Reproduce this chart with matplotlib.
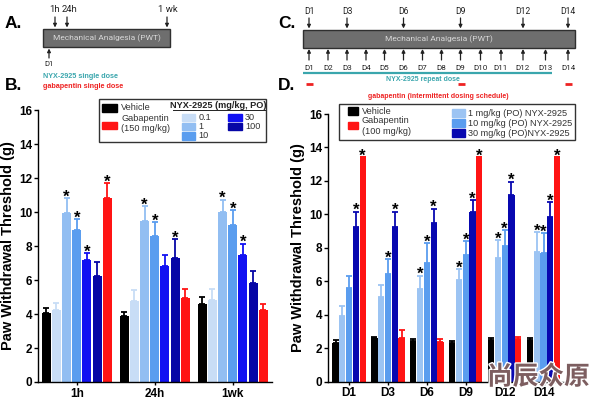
import numpy as np
import matplotlib.pyplot as plt
from matplotlib.patches import Rectangle
import matplotlib.patheffects as pe

plt.rcParams['font.family'] = ['Liberation Sans', 'DejaVu Sans']

# ---- panel B data (single dose) ----
times_b = ['1h', '24h', '1wk']
vehicle_b = [4.04, 3.88, 4.57]
vehicle_b_err = [0.29, 0.26, 0.41]
nyx01_b = [4.23, 4.76, 4.82]
nyx01_b_err = [0.44, 0.64, 0.65]
nyx1_b = [9.95, 9.47, 9.98]
nyx1_b_err = [0.88, 0.88, 0.75]
nyx10_b = [8.94, 8.6, 9.23]
nyx10_b_err = [0.66, 0.8, 0.87]
nyx30_b = [7.17, 6.8, 7.5]
nyx30_b_err = [0.43, 0.7, 0.65]
nyx100_b = [6.25, 7.27, 5.84]
nyx100_b_err = [0.79, 1.13, 0.68]
gaba_b = [10.8, 4.92, 4.23]
gaba_b_err = [0.92, 0.53, 0.34]
# significance stars per series, per time point
stars_vehicle_b = [0, 0, 0]
stars_nyx01_b = [0, 0, 0]
stars_nyx1_b = [1, 1, 1]
stars_nyx10_b = [1, 1, 1]
stars_nyx30_b = [1, 0, 1]
stars_nyx100_b = [0, 1, 0]
stars_gaba_b = [1, 0, 0]

# ---- panel D data (repeat dose) ----
days_d = ['D1', 'D3', 'D6', 'D9', 'D12', 'D14']
vehicle_d = [2.29, 2.59, 2.45, 2.29, 2.49, 2.49]
vehicle_d_err = [0.2, 0.1, 0.1, 0.16, 0.1, 0.1]
nyx1_d = [3.93, 5.03, 5.54, 6.1, 7.4, 7.74]
nyx1_d_err = [0.56, 0.77, 0.8, 0.64, 1.06, 1.2]
nyx10_d = [5.6, 6.46, 7.1, 7.54, 8.1, 7.66]
nyx10_d_err = [0.7, 0.88, 1.16, 0.86, 0.96, 1.2]
nyx30_d = [9.24, 9.24, 9.5, 10.16, 11.14, 9.84]
nyx30_d_err = [0.92, 0.92, 0.84, 0.68, 0.82, 0.9]
gaba_d = [13.44, 2.63, 2.39, 13.44, 2.53, 13.44]
gaba_d_err = [0.0, 0.46, 0.16, 0.0, 0.16, 0.0]
stars_vehicle_d = [0, 0, 0, 0, 0, 0]
stars_nyx1_d = [0, 0, 1, 1, 1, 1]
stars_nyx10_d = [0, 1, 1, 1, 1, 1]
stars_nyx30_d = [1, 1, 1, 1, 1, 1]
stars_gaba_d = [1, 0, 0, 1, 0, 1]

c_vehicle = 'black'
c_01 = '#c8ddf6'
c_1 = '#92bef2'
c_10 = '#5a9def'
c_30 = '#1212f2'
c_100 = '#0606a6'
c_gaba = '#ff1414'
c_d1 = '#9cc4f3'
c_d10 = '#5a9def'
c_d30 = '#0808b0'
teal = '#3aa6ad'


def draw_bars(ax, names, series, spacing, width):
    x = np.arange(len(names))
    n = len(series)
    for i, (vals, errs, stars, col) in enumerate(series):
        xs = x + (i - (n - 1) / 2) * spacing
        ax.bar(xs, vals, width, color=col, zorder=2)
        ax.errorbar(xs, vals, yerr=[np.zeros(len(vals)), errs], fmt='none',
                    ecolor=col, elinewidth=1.3, capsize=2.2, capthick=1.3, zorder=1)
        for xx, v, e, s in zip(xs, vals, errs, stars):
            if s:
                ax.annotate('*', (xx, v + e), xytext=(0, -2.5), textcoords='offset points',
                            ha='center', va='baseline', fontsize=12, fontweight='bold')
    ax.set_xticks(x)
    ax.set_xticklabels(names)


def style_axes(ax):
    ax.spines[['top', 'right']].set_visible(False)
    ax.spines[['left', 'bottom']].set_linewidth(1)
    ax.set_ylim(0, 16)
    ax.set_yticks(range(0, 17, 2))
    ax.tick_params(axis='y', length=3, width=1, labelsize=8.5, pad=1)
    ax.tick_params(axis='x', length=2, width=1, labelsize=8.5, pad=2)
    for lab in ax.get_xticklabels() + ax.get_yticklabels():
        lab.set_fontweight('bold')
    ax.set_ylabel('Paw Withdrawal Threshold (g)', fontsize=10.5, fontweight='bold', labelpad=3)


fig = plt.figure(figsize=(5.94, 4.01), dpi=100)

ax_b = fig.add_axes([0.0635, 0.0474, 0.394, 0.678])
series_b = [(vehicle_b, vehicle_b_err, stars_vehicle_b, c_vehicle),
            (nyx01_b, nyx01_b_err, stars_nyx01_b, c_01),
            (nyx1_b, nyx1_b_err, stars_nyx1_b, c_1),
            (nyx10_b, nyx10_b_err, stars_nyx10_b, c_10),
            (nyx30_b, nyx30_b_err, stars_nyx30_b, c_30),
            (nyx100_b, nyx100_b_err, stars_nyx100_b, c_100),
            (gaba_b, gaba_b_err, stars_gaba_b, c_gaba)]
draw_bars(ax_b, times_b, series_b, 0.131, 0.115)
ax_b.set_xlim(-0.5, 2.5)
style_axes(ax_b)

ax_d = fig.add_axes([0.5517, 0.0486, 0.3993, 0.667])
series_d = [(vehicle_d, vehicle_d_err, stars_vehicle_d, c_vehicle),
            (nyx1_d, nyx1_d_err, stars_nyx1_d, c_d1),
            (nyx10_d, nyx10_d_err, stars_nyx10_d, c_d10),
            (nyx30_d, nyx30_d_err, stars_nyx30_d, c_d30),
            (gaba_d, gaba_d_err, stars_gaba_d, c_gaba)]
draw_bars(ax_d, days_d, series_d, 0.174, 0.16)
ax_d.set_xlim(-0.55, 5.55)
style_axes(ax_d)

# overlay in pixel coordinates for schematics, legends, labels
ov = fig.add_axes([0, 0, 1, 1], zorder=10)
ov.set_xlim(0, 594)
ov.set_ylim(401, 0)
ov.axis('off')

for lab, x, y in [('A.', 5, 23), ('B.', 5, 85), ('C.', 278, 23), ('D.', 278, 85)]:
    ov.text(x, y, lab, fontsize=12.5, fontweight='bold', va='center', ha='left')

tfont = dict(family='Roboto', color='#222222')


def arrow(x, y0, y1):
    ov.annotate('', xy=(x, y1), xytext=(x, y0),
                arrowprops=dict(arrowstyle='-|>', color='#222222', lw=0.9,
                                mutation_scale=5, shrinkA=0, shrinkB=0))


# A: single dose schematic
ov.add_patch(Rectangle((43, 28.5), 127, 18.5, facecolor='#6e6e6e', edgecolor='#2f2f2f', lw=1))
ov.text(106.5, 38, 'Mechanical Analgesia (PWT)', fontsize=6, ha='center', va='center',
        family='Roboto', color='#d8d8d8')
for lab, xa, xl in [('1h', 55, 54.5), ('24h', 67, 70), ('1 wk', 167, 167.5)]:
    ov.text(xl, 10, lab, fontsize=6.8, ha='center', va='center', **tfont)
    arrow(xa, 17, 27.5)
arrow(49, 58, 48.5)
ov.text(49, 63.5, 'D1', fontsize=5.5, ha='center', va='center', **tfont)
ov.text(43, 76, 'NYX-2925 single dose', fontsize=5.2, fontweight='bold', color=teal, va='center')
ov.text(43, 86, 'gabapentin single dose', fontsize=5.2, fontweight='bold', color='#ee2222', va='center')

# C: repeat dose schematic
ov.add_patch(Rectangle((303, 29.5), 272, 18.5, facecolor='#6e6e6e', edgecolor='#2f2f2f', lw=1))
ov.text(439, 39, 'Mechanical Analgesia (PWT)', fontsize=6, ha='center', va='center',
        family='Roboto', color='#d8d8d8')
day_x = [309, 328, 347, 366, 384.5, 403.5, 422.5, 441.5, 460.5, 480.5, 501, 523, 545.5, 568]
for i, xd in enumerate(day_x):
    arrow(xd, 60, 49)
    ov.text(xd, 67.5, f'D{i + 1}', fontsize=5.8, ha='center', va='center', **tfont)
for d in [1, 3, 6, 9, 12, 14]:
    ov.text(day_x[d - 1], 12, f'D{d}', fontsize=6.2, ha='center', va='center', **tfont)
    arrow(day_x[d - 1], 18, 28.5)
ov.plot([303, 552], [72.8, 72.8], color=teal, lw=1.6, solid_capstyle='butt')
ov.text(423, 79.5, 'NYX-2925 repeat dose', fontsize=5.0, fontweight='bold', color=teal,
        ha='center', va='center')
for xd in [309, 461, 568.5]:
    ov.plot([xd - 3.5, xd + 3.5], [83.5, 83.5], color='#ee2222', lw=2, solid_capstyle='butt')
ov.text(438, 96, 'gabapentin (intermittent dosing schedule)', fontsize=5.0, fontweight='bold',
        color='#ee2222', ha='center', va='center')

# legend B
lf = 6.6
ov.add_patch(Rectangle((98.5, 98.5), 167.5, 43, facecolor='white', edgecolor='#333333', lw=1))
ov.add_patch(Rectangle((102, 104), 14.5, 8, color=c_vehicle))
ov.text(121, 108, 'Vehicle', fontsize=lf, va='center', color='#333333')
ov.add_patch(Rectangle((102, 121.5), 14.5, 7.5, color=c_gaba))
ov.text(121, 118.5, 'Gabapentin', fontsize=lf, va='center', color='#333333')
ov.text(121, 128.5, '(150 mg/kg)', fontsize=lf, va='center', color='#333333')
ov.text(218.5, 106, 'NYX-2925 (mg/kg, PO)', fontsize=lf, fontweight='bold', va='center',
        ha='center', color='#222222')
ov.plot([172.5, 264.5], [110.3, 110.3], color='#222222', lw=0.7)
for lab, col, y in [('0.1', c_01, 117.5), ('1', c_1, 126.5), ('10', c_10, 136)]:
    ov.add_patch(Rectangle((182, y - 3.6), 13, 7.2, color=col))
    ov.text(198.5, y, lab, fontsize=lf, va='center', color='#333333')
for lab, col, y in [('30', c_30, 117.5), ('100', c_100, 126.5)]:
    ov.add_patch(Rectangle((228, y - 3.6), 13.5, 7.2, color=col))
    ov.text(245, y, lab, fontsize=lf, va='center', color='#333333')

# legend D
ov.add_patch(Rectangle((338.5, 103.5), 236, 36, facecolor='white', edgecolor='#333333', lw=1))
ov.add_patch(Rectangle((348, 107), 9.5, 8, color=c_vehicle))
ov.text(361.5, 111, 'Vehicle', fontsize=lf, va='center', color='#333333')
ov.add_patch(Rectangle((348, 121.5), 9.5, 7.8, color=c_gaba))
ov.text(361.5, 120.5, 'Gabapentin', fontsize=lf, va='center', color='#333333')
ov.text(361.5, 132, '(100 mg/kg)', fontsize=lf, va='center', color='#333333')
for lab, col, y in [('1 mg/kg (PO) NYX-2925', c_d1, 113.3),
                    ('10 mg/kg (PO) NYX-2925', c_d10, 123.3),
                    ('30 mg/kg (PO)NYX-2925', c_d30, 133.3)]:
    ov.add_patch(Rectangle((451.7, y - 4), 13.3, 8, color=col))
    ov.text(468.5, y, lab, fontsize=lf, va='center', color='#333333')

# watermark
ov.text(538.5, 377, '尚辰众原', fontsize=18.5, fontweight='bold', color='#7d5e60',
        family=['Noto Sans CJK SC'], ha='center', va='center',
        path_effects=[pe.withStroke(linewidth=2, foreground='white')])

fig.savefig('out.png', dpi=100)
